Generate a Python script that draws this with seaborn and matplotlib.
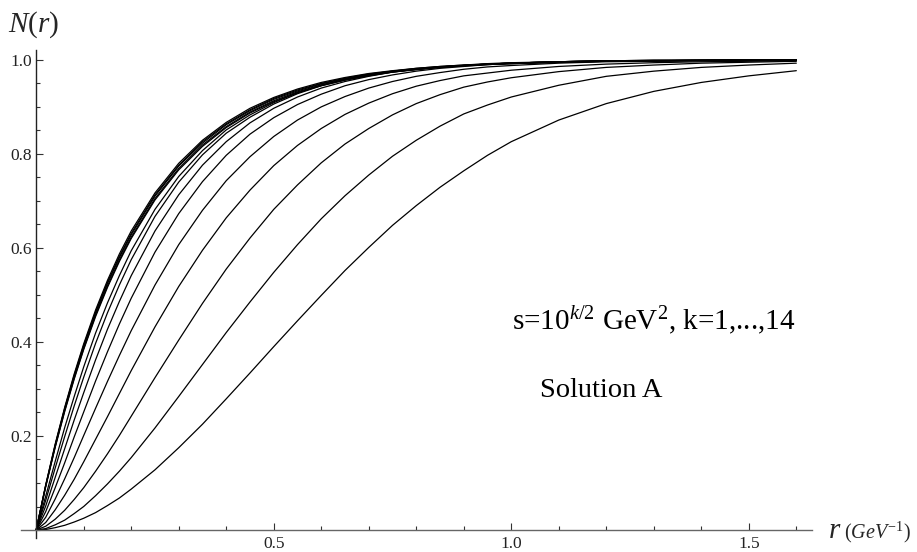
import matplotlib
matplotlib.use("Agg")
import matplotlib.pyplot as plt
from matplotlib.ticker import FixedLocator, MultipleLocator, FormatStrFormatter
import pandas as pd
import seaborn as sns

sns.set_theme(style="white")
plt.rcParams['font.family'] = ['Liberation Serif', 'DejaVu Serif']
plt.rcParams['mathtext.fontset'] = 'custom'
plt.rcParams['mathtext.rm'] = 'Liberation Serif'
plt.rcParams['mathtext.it'] = 'Liberation Serif:italic'

# dipole radius r (GeV^-1)
r = [0, 0.02, 0.04, 0.06, 0.08, 0.1, 0.125, 0.15, 0.175, 0.2, 0.25, 0.3,
     0.35, 0.4, 0.45, 0.5, 0.55, 0.6, 0.65, 0.7, 0.75, 0.8, 0.85, 0.9,
     0.95, 1.0, 1.1, 1.2, 1.3, 1.4, 1.5, 1.6]

# N(r) for s = 10^(k/2) GeV^2
N_k1 = [0, .001, .005, .010, .017, .025, .037, .052, .068, .087, .128, .175,
        .225, .279, .334, .390, .445, .499, .552, .601, .648, .690, .729, .764,
        .797, .826, .872, .907, .933, .952, .966, .977]
N_k2 = [0, .003, .011, .021, .035, .050, .073, .098, .125, .154, .217, .284,
        .352, .420, .485, .548, .607, .662, .711, .755, .795, .829, .859, .885,
        .904, .921, .946, .965, .976, .984, .989, .993]
N_k3 = [0, .008, .023, .042, .065, .090, .125, .162, .201, .242, .324, .404,
        .482, .555, .621, .682, .734, .781, .821, .854, .883, .907, .926, .942,
        .953, .962, .975, .984, .989, .993, .995, .997]
N_k4 = [0, .016, .043, .074, .108, .145, .193, .241, .290, .339, .432, .518,
        .595, .664, .723, .775, .818, .854, .884, .908, .928, .944, .956, .966,
        .972, .978, .986, .991, .994, .996, .997, .998]
N_k5 = [0, .027, .066, .109, .154, .201, .259, .316, .371, .424, .521, .607,
        .680, .743, .794, .837, .872, .900, .922, .940, .954, .965, .973, .980,
        .985, .988, .993, .996, .997, .998, .999, .999]
N_k6 = [0, .039, .090, .143, .198, .251, .317, .379, .438, .493, .591, .673,
        .741, .797, .842, .877, .905, .927, .945, .958, .968, .976, .982, .986,
        .990, .992, .995, .997, .998, .999, .9995, 1.0]
N_k7 = [0, .051, .112, .173, .234, .292, .362, .427, .486, .541, .636, .713,
        .776, .826, .866, .897, .921, .940, .954, .965, .974, .980, .985, .988,
        .991, .993, .996, .998, .999, .999, 1.0, 1.0]
N_k8 = [0, .063, .132, .199, .264, .325, .397, .462, .521, .575, .667, .740,
        .798, .844, .878, .906, .928, .945, .957, .967, .975, .980, .985, .988,
        .991, .993, .996, .998, .999, .999, 1.0, 1.0]
N_k9 = [0, .072, .146, .218, .284, .347, .419, .483, .541, .594, .682, .752,
        .807, .851, .883, .909, .930, .946, .959, .968, .975, .980, .985, .988,
        .991, .993, .996, .998, .999, .999, 1.0, 1.0]
N_k10 = [0, .092, .176, .252, .321, .384, .454, .516, .571, .620, .702, .766,
         .816, .856, .887, .911, .930, .945, .957, .966, .974, .979, .984, .987,
         .990, .992, .995, .997, .998, .999, .999, 1.0]
N_k11 = [0, .093, .177, .254, .323, .386, .457, .519, .574, .623, .705, .769,
         .819, .858, .889, .913, .932, .947, .958, .967, .974, .980, .984, .988,
         .990, .992, .995, .997, .998, .999, .999, 1.0]
N_k12 = [0, .094, .180, .257, .327, .390, .461, .524, .579, .628, .710, .774,
         .823, .862, .892, .916, .934, .949, .960, .969, .976, .981, .985, .988,
         .991, .993, .996, .997, .998, .999, .999, 1.0]
N_k13 = [0, .095, .181, .259, .329, .393, .464, .527, .582, .631, .713, .776,
         .826, .864, .894, .918, .936, .950, .961, .970, .976, .982, .986, .989,
         .991, .993, .996, .998, .9985, .999, .9995, 1.0]
N_k14 = [0, .096, .183, .261, .332, .396, .468, .531, .587, .636, .717, .780,
         .829, .867, .897, .920, .938, .952, .9625, .971, .977, .982, .986, .989,
         .992, .994, .996, .998, .9986, .999, .9995, 1.0]

curves = [N_k1, N_k2, N_k3, N_k4, N_k5, N_k6, N_k7, N_k8, N_k9, N_k10,
          N_k11, N_k12, N_k13, N_k14]

rows = []
for k, vals in enumerate(curves, start=1):
    for rr, nn in zip(r, vals):
        rows.append({"k": k, "r": rr, "N": nn})
df = pd.DataFrame(rows)

fig = plt.figure(figsize=(9.17, 5.52), dpi=100)
ax = fig.add_axes([21 / 917, 1 - 538 / 552, (812 - 21) / 917, (538 - 50) / 552])

sns.lineplot(data=df, x="r", y="N", units="k", estimator=None, color="black",
             linewidth=0.9, ax=ax, legend=False)

ax.set_xlim(-0.032, 1.633)
ax.set_ylim(-0.017, 1.021)
ax.set_xlabel("")
ax.set_ylabel("")

for side in ["top", "right"]:
    ax.spines[side].set_visible(False)
ax.spines["left"].set_position(("data", 0))
ax.spines["bottom"].set_position(("data", 0))
ax.spines["left"].set_color("#222222")
ax.spines["bottom"].set_color("#666666")
ax.spines["left"].set_linewidth(1.0)
ax.spines["bottom"].set_linewidth(1.0)

ax.xaxis.set_major_locator(FixedLocator([0.5, 1.0, 1.5]))
ax.xaxis.set_minor_locator(MultipleLocator(0.1))
ax.yaxis.set_major_locator(FixedLocator([0.2, 0.4, 0.6, 0.8, 1.0]))
ax.yaxis.set_minor_locator(MultipleLocator(0.05))
ax.xaxis.set_major_formatter(FormatStrFormatter('%.1f'))
ax.yaxis.set_major_formatter(FormatStrFormatter('%.1f'))

ax.tick_params(axis="both", which="major", direction="in", length=5, width=0.8,
               color="#333333", labelsize=12.5, labelcolor="#222222")
ax.tick_params(axis="both", which="minor", direction="in", length=3, width=0.8,
               color="#333333")
ax.tick_params(axis="x", which="major", pad=4)
ax.tick_params(axis="y", which="major", pad=3)
ax.tick_params(bottom=True, left=True, which="both")

ax.text(1.0015, 0.4255, r's=10$^{k/2}$ GeV$^{2}$, k=1,...,14', fontsize=21,
        va="baseline", ha="left", color="black")
ax.text(1.060, 0.283, "Solution A", fontsize=20.5, va="baseline", ha="left",
        color="black")

fig.text(8 / 917, 1 - 32 / 552, r'$N(r)$', fontsize=21, va="baseline", ha="left")
fig.text(828 / 917, 1 - 538 / 552, r'$r$', fontsize=21, va="baseline", ha="left")
fig.text(844 / 917, 1 - 538 / 552, r'$(GeV^{-1})$', fontsize=14.5, va="baseline",
         ha="left")

fig.savefig("out.png", dpi=100)
